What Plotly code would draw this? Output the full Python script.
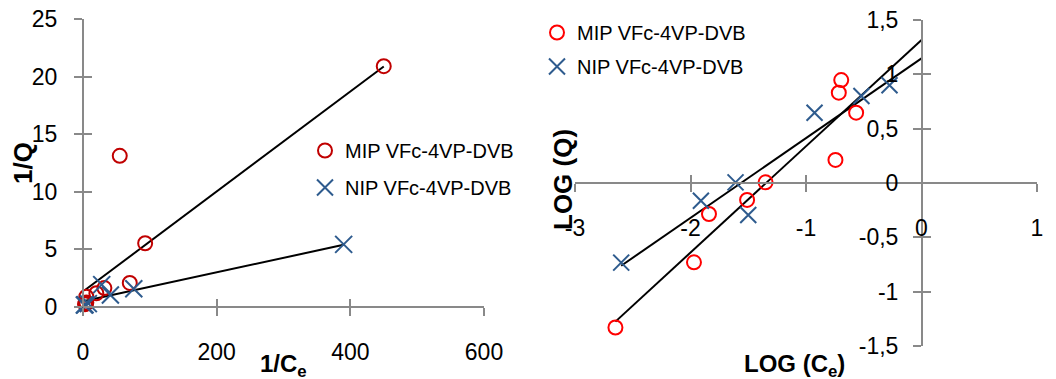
import plotly.graph_objects as go

W, H = 1056, 379
PAGE_OFFSET = 8  # default body margin of the html page

# ---------------- data: left panel (1/Q vs 1/Ce) ----------------
mip_inv_ce = [450, 93, 70, 55, 32, 20, 5, 5, 4, 3]
mip_inv_q = [20.9, 5.5, 2.05, 13.1, 1.6, 1.15, 0.85, 0.35, 0.25, 0.2]
nip_inv_ce = [390, 76, 41, 28, 8, 3, 2]
nip_inv_q = [5.4, 1.55, 1.0, 1.9, 0.25, 0.15, 0.13]
mip_lin_fit = (0.0435, 1.3)   # slope, intercept
nip_lin_fit = (0.0126, 0.45)

# ---------------- data: right panel (LOG(Q) vs LOG(Ce)) ----------------
mip_log_ce = [-2.65, -1.97, -1.84, -1.51, -1.35, -0.745, -0.716, -0.695, -0.566]
mip_log_q = [-1.33, -0.73, -0.285, -0.156, 0.006, 0.212, 0.831, 0.947, 0.647]
nip_log_ce = [-2.60, -1.91, -1.61, -1.50, -0.926, -0.52, -0.277]
nip_log_q = [-0.733, -0.163, 0.006, -0.294, 0.647, 0.80, 0.90]
mip_log_fit = (0.978, 1.316)
nip_log_fit = (0.734, 1.147)
log_fit_end = 0.0

# ---------------- ticks ----------------
left_x_ticks = [0, 200, 400, 600]
left_y_ticks = [0, 5, 10, 15, 20, 25]
right_x_ticks = [-3, -2, -1, 0, 1]
right_x_text = ["-3", "-2", "-1", "0", "1"]
right_y_ticks = [-1.5, -1, -0.5, 0, 0.5, 1, 1.5]
right_y_text = ["-1,5", "-1", "-0,5", "0", "0,5", "1", "1,5"]

names = ["MIP VFc-4VP-DVB", "NIP VFc-4VP-DVB"]

FONT = "Liberation Sans"
AXC = "#898989"
RED_DARK = "#C00000"
RED = "#FF0000"
BLUE = "#2E5B8E"


def px_x(p):
    return (p - PAGE_OFFSET) / W


def px_y(p):
    return 1 - (p - PAGE_OFFSET) / H


def line_pts(xs, fit, x_end=None):
    x0 = min(xs)
    x1 = max(xs) if x_end is None else x_end
    return [x0, x1], [fit[1] + fit[0] * x0, fit[1] + fit[0] * x1]


fig = go.Figure()

# left trendlines
for xs, fit in [(mip_inv_ce, mip_lin_fit), (nip_inv_ce, nip_lin_fit)]:
    lx, ly = line_pts(xs, fit)
    fig.add_trace(go.Scatter(x=lx, y=ly, mode="lines", line=dict(color="black", width=2),
                             showlegend=False, hoverinfo="skip", xaxis="x", yaxis="y"))
# left markers
fig.add_trace(go.Scatter(x=mip_inv_ce, y=mip_inv_q, mode="markers", name=names[0],
                         marker=dict(symbol="circle-open", size=14, color=RED_DARK, line=dict(width=2, color=RED_DARK)),
                         cliponaxis=False, legend="legend", legendgroup="a", xaxis="x", yaxis="y"))
fig.add_trace(go.Scatter(x=nip_inv_ce, y=nip_inv_q, mode="markers", name=names[1],
                         marker=dict(symbol="x-thin-open", size=17, color=BLUE, line=dict(width=2, color=BLUE)),
                         cliponaxis=False, legend="legend", legendgroup="b", xaxis="x", yaxis="y"))

# right trendlines
for xs, fit in [(mip_log_ce, mip_log_fit), (nip_log_ce, nip_log_fit)]:
    lx, ly = line_pts(xs, fit, log_fit_end)
    fig.add_trace(go.Scatter(x=lx, y=ly, mode="lines", line=dict(color="black", width=2),
                             showlegend=False, hoverinfo="skip", xaxis="x2", yaxis="y2"))
fig.add_trace(go.Scatter(x=mip_log_ce, y=mip_log_q, mode="markers", name=names[0],
                         marker=dict(symbol="circle-open", size=14, color=RED, line=dict(width=2, color=RED)),
                         cliponaxis=False, legend="legend2", legendgroup="c", xaxis="x2", yaxis="y2"))
fig.add_trace(go.Scatter(x=nip_log_ce, y=nip_log_q, mode="markers", name=names[1],
                         marker=dict(symbol="x-thin-open", size=16, color=BLUE, line=dict(width=2, color=BLUE)),
                         cliponaxis=False, legend="legend2", legendgroup="d", xaxis="x2", yaxis="y2"))

# dummy traces for overlay (cross-tick) axes
for xa, ya in [("x3", "y"), ("x", "y3"), ("x4", "y2"), ("x2", "y4")]:
    fig.add_trace(go.Scatter(x=[None], y=[None], mode="markers", showlegend=False,
                             hoverinfo="skip", xaxis=xa, yaxis=ya))

tickfont = dict(family=FONT, size=23, color="black")
base = dict(showgrid=False, zeroline=False, tickfont=tickfont, tickcolor=AXC,
            tickwidth=2, ticklen=8, linecolor=AXC, linewidth=2, automargin=False,
            ticklabeloverflow="allow")

L_XDOM = [px_x(83), px_x(484)]
L_YDOM = [px_y(306.5), px_y(19)]
R_XDOM = [px_x(575), px_x(1037)]
R_YDOM = [px_y(346), px_y(20)]
L_XPOS = px_y(306.5)
L_YPOS = px_x(83)
R_XPOS = px_y(183)
R_YPOS = px_x(922)

ann = dict(xref="paper", yref="paper", showarrow=False, xanchor="center", yanchor="middle")

fig.update_layout(
    width=W, height=H, margin=dict(l=0, r=0, t=0, b=0, autoexpand=False),
    plot_bgcolor="white", paper_bgcolor="white",
    font=dict(family=FONT, color="black"),
    xaxis=dict(**base, domain=L_XDOM, range=[0, 600], anchor="free", position=L_XPOS,
               showline=True, ticks="outside", tickvals=left_x_ticks, ticklabelstandoff=17),
    yaxis=dict(**base, domain=L_YDOM, range=[0, 25], anchor="free", position=L_YPOS,
               showline=True, ticks="outside", tickvals=left_y_ticks, ticklabelstandoff=12),
    xaxis3=dict(**base, domain=L_XDOM, range=[0, 600], anchor="free", position=L_XPOS, overlaying="x",
                showline=False, ticks="inside", tickvals=left_x_ticks, showticklabels=False),
    yaxis3=dict(**base, domain=L_YDOM, range=[0, 25], anchor="free", position=L_YPOS, overlaying="y",
                showline=False, ticks="inside", tickvals=left_y_ticks, showticklabels=False),
    xaxis2=dict(**base, domain=R_XDOM, range=[-3, 1], anchor="free", position=R_XPOS,
                showline=True, ticks="outside", tickvals=right_x_ticks, ticktext=right_x_text,
                ticklabelstandoff=16),
    yaxis2=dict(**base, domain=R_YDOM, range=[-1.5, 1.5], anchor="free", position=R_YPOS,
                showline=True, ticks="outside", tickvals=right_y_ticks, ticktext=right_y_text,
                ticklabelstandoff=10),
    xaxis4=dict(**base, domain=R_XDOM, range=[-3, 1], anchor="free", position=R_XPOS, overlaying="x2",
                showline=False, ticks="inside", tickvals=right_x_ticks, showticklabels=False),
    yaxis4=dict(**base, domain=R_YDOM, range=[-1.5, 1.5], anchor="free", position=R_YPOS, overlaying="y2",
                showline=False, ticks="inside", tickvals=right_y_ticks, showticklabels=False),
    legend=dict(x=px_x(305), y=px_y(131), xanchor="left", yanchor="top", bgcolor="rgba(0,0,0,0)",
                font=dict(family=FONT, size=20, color="black"), tracegroupgap=8),
    legend2=dict(x=px_x(537), y=px_y(13), xanchor="left", yanchor="top", bgcolor="rgba(0,0,0,0)",
                 font=dict(family=FONT, size=20, color="black"), tracegroupgap=5),
    annotations=[
        dict(**ann, text="<b>1/Q</b>", x=px_x(23), y=px_y(163), textangle=-90,
             font=dict(family=FONT, size=26)),
        dict(**ann, text="<b>1/C<sub>e</sub></b>", x=px_x(283), y=px_y(365),
             font=dict(family=FONT, size=24)),
        dict(**ann, text="<b>LOG (Q)</b>", x=px_x(563), y=px_y(180), textangle=-90,
             font=dict(family=FONT, size=26)),
        dict(**ann, text="<b>LOG (C<sub>e</sub>)</b>", x=px_x(794), y=px_y(365),
             font=dict(family=FONT, size=24)),
    ],
)

fig.write_html("out.html")
